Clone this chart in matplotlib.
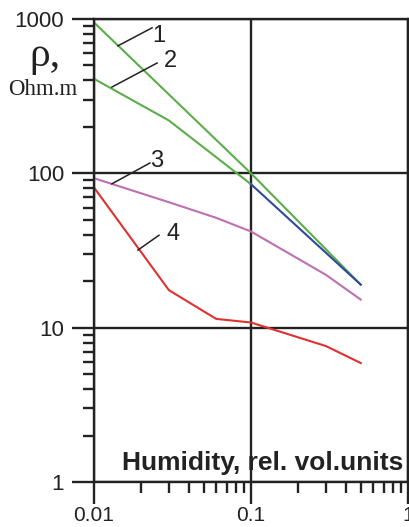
import numpy as np
import matplotlib.pyplot as plt
from matplotlib.ticker import LogLocator, NullFormatter, FixedLocator, FixedFormatter

# humidity, rel. vol. units
hum_1 = [0.01, 0.1, 0.5]
rho_1 = [950, 100, 19]

hum_2 = [0.01, 0.03, 0.1]
rho_2 = [410, 220, 85]
hum_2b = [0.1, 0.5]          # continuation of curve 2 (blue)
rho_2b = [85, 19]

hum_3 = [0.01, 0.03, 0.06, 0.1, 0.3, 0.5]
rho_3 = [93, 65, 51.5, 42, 22, 15.2]

hum_4 = [0.01, 0.03, 0.06, 0.1, 0.3, 0.5]
rho_4 = [81, 17.5, 11.4, 10.8, 7.6, 5.9]

xticks = [0.01, 0.1, 1]
xtick_labels = ["0.01", "0.1", "1"]
yticks = [1, 10, 100, 1000]
ytick_labels = ["1", "10", "100", "1000"]

green = "#5aae4a"
blue = "#2e4a9a"
purple = "#bf6fb0"
red = "#e03030"
ink = "#222222"

plt.rcParams['font.family'] = ['Liberation Sans', 'DejaVu Sans']

fig = plt.figure(figsize=(4.09, 5.27), dpi=100)
ax = fig.add_axes([0.2298, 0.0854, 0.7678, 0.8785])
ax.set_xscale('log')
ax.set_yscale('log')
ax.set_xlim(0.01, 1)
ax.set_ylim(1, 1000)

ax.plot(hum_1, rho_1, color=green, lw=1.5)
ax.plot(hum_2, rho_2, color=green, lw=1.5)
ax.plot(hum_2b, rho_2b, color=blue, lw=1.5)
ax.plot(hum_3, rho_3, color=purple, lw=1.5)
ax.plot(hum_4, rho_4, color=red, lw=1.5)

ax.xaxis.set_major_locator(FixedLocator(xticks))
ax.xaxis.set_major_formatter(FixedFormatter(xtick_labels))
ax.yaxis.set_major_locator(FixedLocator(yticks))
ax.yaxis.set_major_formatter(FixedFormatter(ytick_labels))
ax.xaxis.set_minor_locator(LogLocator(base=10, subs=np.arange(2, 10)))
ax.yaxis.set_minor_locator(LogLocator(base=10, subs=np.arange(2, 10)))
ax.xaxis.set_minor_formatter(NullFormatter())
ax.yaxis.set_minor_formatter(NullFormatter())

ax.tick_params(which='major', direction='out', length=15.5, width=1.7,
               color=ink, labelcolor=ink)
ax.tick_params(axis='y', which='major', pad=6, labelsize=16)
ax.tick_params(axis='x', which='major', pad=1.5, labelsize=15)
ax.tick_params(which='minor', direction='out', length=8, width=1.7, color=ink)

ax.grid(True, which='major', color=ink, lw=1.7)
for s in ax.spines.values():
    s.set_color(ink)
    s.set_linewidth(1.7)

# curve labels with leader lines (axes fraction)
labels = [("1", (0.207, 0.963), (0.076, 0.942), (0.185, 0.981)),
          ("2", (0.245, 0.909), (0.057, 0.853), (0.201, 0.905)),
          ("3", (0.201, 0.693), (0.057, 0.644), (0.178, 0.689)),
          ("4", (0.252, 0.536), (0.140, 0.501), (0.207, 0.533))]
for txt, tpos, p0, p1 in labels:
    ax.plot([p0[0], p1[0]], [p0[1], p1[1]], color=ink, lw=1.1,
            transform=ax.transAxes)
    ax.text(tpos[0], tpos[1], txt, transform=ax.transAxes, fontsize=17,
            color=ink, ha='center', va='center')

ax.text(0.985, 0.026, "Humidity, rel. vol.units", transform=ax.transAxes,
        fontsize=19, fontweight='bold', color=ink, ha='right', va='baseline')

fig.text(29 / 409, 1 - 66 / 527, "ρ,", family=['Liberation Serif', 'DejaVu Serif'],
         fontsize=30, color=ink, ha='left', va='baseline')
fig.text(43 / 409, 1 - 95 / 527, "Ohm.m", family=['Liberation Serif', 'DejaVu Serif'],
         fontsize=16.5, color=ink, ha='center', va='baseline')

fig.savefig("out.png", dpi=100)
